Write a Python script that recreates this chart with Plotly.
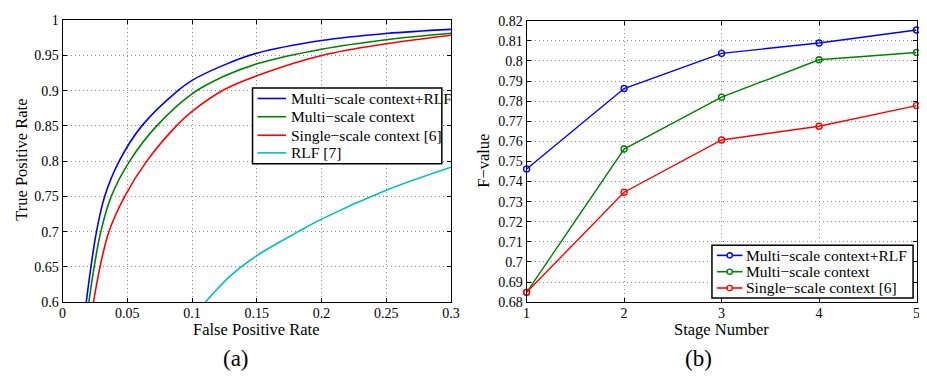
import plotly.graph_objects as go

# ---- (a) ROC curves: points ----
fpr_multi_rlf = [0.0183, 0.0219, 0.0262, 0.0325, 0.0437, 0.0612, 0.0891, 0.100, 0.125, 0.150, 0.200, 0.250, 0.300]
tpr_multi_rlf = [0.600, 0.650, 0.700, 0.750, 0.800, 0.850, 0.900, 0.9145, 0.9365, 0.953, 0.971, 0.981, 0.9868]

fpr_multi = [0.0203, 0.0244, 0.0295, 0.0376, 0.0518, 0.0727, 0.100, 0.125, 0.150, 0.200, 0.250, 0.300]
tpr_multi = [0.600, 0.650, 0.700, 0.750, 0.800, 0.850, 0.8955, 0.9206, 0.938, 0.9587, 0.9722, 0.9814]

fpr_single = [0.0239, 0.0289, 0.0358, 0.0480, 0.0650, 0.0879, 0.100, 0.125, 0.150, 0.200, 0.250, 0.300]
tpr_single = [0.600, 0.650, 0.700, 0.750, 0.800, 0.850, 0.8705, 0.9015, 0.921, 0.9497, 0.9664, 0.9786]

fpr_rlf = [0.1102, 0.130, 0.150, 0.182, 0.200, 0.250, 0.300]
tpr_rlf = [0.600, 0.638, 0.666, 0.700, 0.7178, 0.7587, 0.7913]

# ---- (b) F-value per stage ----
stages = [1, 2, 3, 4, 5]
f_multi_rlf = [0.7463, 0.7863, 0.8038, 0.8089, 0.8154]
f_multi = [0.6849, 0.7562, 0.7820, 0.8006, 0.8042]
f_single = [0.6849, 0.7347, 0.7607, 0.7675, 0.7778]

names = ["Multi\u2212scale context+RLF", "Multi\u2212scale context",
         "Single\u2212scale context [6]", "RLF [7]"]

a_xticks = [0, 0.05, 0.1, 0.15, 0.2, 0.25, 0.3]
a_xtext = ["0", "0.05", "0.1", "0.15", "0.2", "0.25", "0.3"]
a_yticks = [0.6, 0.65, 0.7, 0.75, 0.8, 0.85, 0.9, 0.95, 1.0]
a_ytext = ["0.6", "0.65", "0.7", "0.75", "0.8", "0.85", "0.9", "0.95", "1"]
b_yticks = [0.68, 0.69, 0.70, 0.71, 0.72, 0.73, 0.74, 0.75, 0.76, 0.77, 0.78, 0.79, 0.80, 0.81, 0.82]
b_ytext = ["0.68", "0.69", "0.7", "0.71", "0.72", "0.73", "0.74", "0.75", "0.76",
           "0.77", "0.78", "0.79", "0.8", "0.81", "0.82"]

BLUE, GREEN, RED, CYAN = "#0000ff", "#008000", "#ff0000", "#00bfbf"
COLORS = [BLUE, GREEN, RED, CYAN]
FONT = "Liberation Serif"

# the page body keeps its default 8px margin: lay out in page pixels and shift
OFF = 8
PW, PH = 927, 379
W, H = PW - OFF, PH - OFF


def px(x):
    return (x - OFF) / W


def py(y):
    return 1 - (y - OFF) / H


fig = go.Figure()

for xs, ys, c, n in [(fpr_multi_rlf, tpr_multi_rlf, BLUE, names[0]),
                     (fpr_multi, tpr_multi, GREEN, names[1]),
                     (fpr_single, tpr_single, RED, names[2]),
                     (fpr_rlf, tpr_rlf, CYAN, names[3])]:
    fig.add_trace(go.Scatter(x=xs, y=ys, mode="lines", name=n, showlegend=False,
                             line=dict(color=c, width=1.6, shape="spline", smoothing=1.0),
                             xaxis="x", yaxis="y"))

for ys, c, n in [(f_multi_rlf, BLUE, names[0]),
                 (f_multi, GREEN, names[1]),
                 (f_single, RED, names[2])]:
    fig.add_trace(go.Scatter(x=stages, y=ys, mode="lines+markers", name=n, showlegend=False,
                             line=dict(color=c, width=1.4),
                             marker=dict(symbol="circle-open", size=6, color=c, line=dict(width=1.4)),
                             xaxis="x2", yaxis="y2", cliponaxis=False))

axis_common = dict(showline=True, linecolor="black", linewidth=1, mirror="ticks",
                   ticks="inside", ticklen=4, tickcolor="black",
                   showgrid=True, gridcolor="#8c8c8c", griddash="1px,3px", gridwidth=1,
                   zeroline=False, ticklabeloverflow="allow",
                   tickfont=dict(family=FONT, size=14, color="black"))

fig.update_layout(
    width=W, height=H, margin=dict(l=0, r=0, t=0, b=0),
    paper_bgcolor="white", plot_bgcolor="white",
    font=dict(family=FONT, color="black"),
    showlegend=False,
    xaxis=dict(domain=[px(59.3), px(453.3)], range=[0, 0.3], tickvals=a_xticks, ticktext=a_xtext,
               anchor="y", ticklabelstandoff=-2, **axis_common),
    yaxis=dict(domain=[py(307.3), py(13.3)], range=[0.6, 1.0], tickvals=a_yticks, ticktext=a_ytext,
               anchor="x", **axis_common),
    xaxis2=dict(domain=[px(530), px(925.5)], range=[1, 5], tickvals=stages,
                ticktext=[str(s) for s in stages], anchor="y2", ticklabelstandoff=-2, **axis_common),
    yaxis2=dict(domain=[py(307.3), py(14)], range=[0.68, 0.82], tickvals=b_yticks, ticktext=b_ytext,
                anchor="x2", **axis_common),
)

# ---- legends drawn as boxes, sample lines and text ----
LEG_FONT = 15.5


def add_legend(box, line_x, text_x, rows, labels, colors, markers):
    x0, x1, y0, y1 = box
    fig.add_shape(type="rect", xref="paper", yref="paper",
                  x0=px(x0), x1=px(x1), y0=py(y1), y1=py(y0),
                  line=dict(color="black", width=1.5), fillcolor="white", layer="above")
    for ry, lab, col in zip(rows, labels, colors):
        fig.add_shape(type="line", xref="paper", yref="paper",
                      x0=px(line_x[0]), x1=px(line_x[1]), y0=py(ry), y1=py(ry),
                      line=dict(color=col, width=1.6), layer="above")
        if markers:
            cx = (line_x[0] + line_x[1]) / 2
            fig.add_shape(type="circle", xref="paper", yref="paper",
                          xsizemode="pixel", ysizemode="pixel",
                          xanchor=px(cx), yanchor=py(ry),
                          x0=-2.6, x1=2.6, y0=-2.6, y1=2.6,
                          line=dict(color=col, width=1.4), fillcolor="white", layer="above")
        fig.add_annotation(text=lab, x=px(text_x), y=py(ry), xref="paper", yref="paper",
                           xanchor="left", yanchor="middle", showarrow=False,
                           font=dict(family=FONT, size=LEG_FONT, color="black"))


add_legend((252, 444, 84, 163), (257, 286), 288.5, [95, 114, 133.3, 151.7],
           names, COLORS, False)
add_legend((718, 922, 248, 303), (723, 749), 750.5, [258.5, 275.5, 292.5],
           names[:3], COLORS[:3], True)

anns = [
    dict(text="False Positive Rate", x=256.5, y=336, size=16.5, angle=0),
    dict(text="True Positive Rate", x=18, y=159, size=16.5, angle=-90),
    dict(text="Stage Number", x=727.7, y=336, size=16.5, angle=0),
    dict(text="F\u2212value", x=486.7, y=160, size=16.5, angle=-90),
    dict(text="(a)", x=235, y=366, size=23, angle=0),
    dict(text="(b)", x=704, y=366, size=23, angle=0),
]
for a in anns:
    fig.add_annotation(text=a["text"], x=px(a["x"]), y=py(a["y"]), xref="paper", yref="paper",
                       xanchor="center", yanchor="middle", showarrow=False, textangle=a["angle"],
                       font=dict(family=FONT, size=a["size"], color="black"))

fig.write_html("out.html")
